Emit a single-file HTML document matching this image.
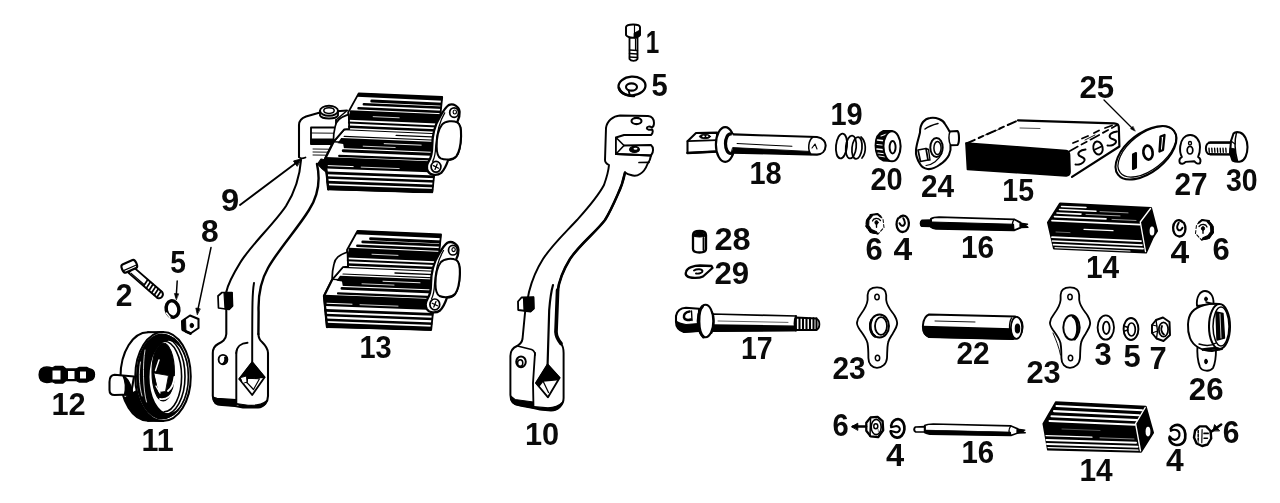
<!DOCTYPE html>
<html lang="en"><head><meta charset="utf-8"><title>Kickstarter parts diagram</title>
<style>
html,body{margin:0;padding:0;background:#fff;}
body{width:1280px;height:503px;overflow:hidden;}
svg{display:block;filter:blur(0.35px);}
svg text{font-family:"Liberation Sans",sans-serif;font-weight:bold;font-size:31px;fill:#0a0a0a;text-anchor:middle;}
svg path,svg line,svg ellipse,svg polygon,svg rect{stroke-linecap:round;stroke-linejoin:round;}
</style></head><body>
<svg width="1280" height="503" viewBox="0 0 1280 503">
<rect x="0" y="0" width="1280" height="503" fill="#fff" stroke="none"/>
<clipPath id="pedclip"><path d="M357.5,229.5 L441.6,233.6 L431.6,331 L326.5,328.3 L322.5,296 L331.5,279.3 L342.5,266 L347,265.8 L346,250 Z"/></clipPath>
<path d="M301,160 C300,174 296,190 286,206 C274,224 250,246 240,263 C232,276 228,284 226.3,292 L226.3,334 C226,340 222,342 218,344 C214.5,346 212.8,349 212.8,353 L212.8,396 C213,402 216,405 222,405 L235,406 L243,407.5 L258,407.5 C264,407 268,402 268,396 L268,353 C268,348 265,345 262,342 C259.5,340 258.6,338 258.4,334 L258.6,312 C258,296 260,282 268,268 C278,250 298,228 309,210 C318,196 321,182 317,164 L336,157 L336,120 L347,110.5 L320,112.5 L306,116.5 C302,118 299,121 299,125 L299,157 Z" fill="#fff" stroke="none" stroke-width="0.0" />
<path d="M301,160 C300,174 296,190 286,206 C274,224 250,246 240,263 C232,276 228,284 226.3,292 L226.3,334 C226,340 222,342 218,344 C214.5,346 212.8,349 212.8,353 L212.8,396 C213,402 216,405 222,405 L235,406 L243,407.5 L258,407.5 C264,407 268,402 268,396 L268,353 C268,348 265,345 262,342 C259.5,340 258.6,338 258.4,334" fill="none" stroke="#000" stroke-width="2.07" />
<path d="M258.4,334 L258.6,312 C258,296 260,282 268,268 C278,250 298,228 309,210 C318,196 321,182 317,164" fill="none" stroke="#000" stroke-width="2.415" />
<path d="M299,157 L299,125 C299,121 302,118 306,116.5 L320,112.5 L347,110.5" fill="none" stroke="#000" stroke-width="2.07" />
<path d="M336,120 L336,137" fill="none" stroke="#000" stroke-width="1.8399999999999999" />
<path d="M336,120 L346,111.5" fill="none" stroke="#000" stroke-width="1.4949999999999999" />
<path d="M320,111 L320,115.5 C322,119.5 336,119.5 338,115.5 L338,111 Z" fill="#fff" stroke="#000" stroke-width="1.8399999999999999" />
<ellipse cx="329" cy="110.8" rx="9.0" ry="5.0" fill="#fff" stroke="#000" stroke-width="1.9549999999999998"/>
<ellipse cx="329" cy="110.6" rx="5.2" ry="2.8" fill="#fff" stroke="#000" stroke-width="1.4949999999999999"/>
<path d="M311,127.5 L335,127.5 L335,144 L311,144 Z" fill="#fff" stroke="#000" stroke-width="1.8399999999999999" />
<path d="M311,139 L335,139 L335,144 L311,144 Z" fill="#000" stroke="#000" stroke-width="1.15" />
<line x1="311.00" y1="133.00" x2="335.00" y2="133.20" stroke="#000" stroke-width="0.9199999999999999"/>
<line x1="313.00" y1="149.00" x2="329.00" y2="149.20" stroke="#000" stroke-width="0.9199999999999999"/>
<line x1="313.00" y1="152.00" x2="329.00" y2="152.20" stroke="#000" stroke-width="0.9199999999999999"/>
<line x1="313.00" y1="155.00" x2="329.00" y2="155.20" stroke="#000" stroke-width="0.9199999999999999"/>
<path d="M299,157 C300,158.5 303,158.5 305.5,157.5" fill="none" stroke="#000" stroke-width="1.7249999999999999" />
<path d="M317.5,164 L321,159 L326.5,160 L326,172 C323,170 320,167 317.5,164 Z" fill="#000" stroke="#000" stroke-width="1.15" />
<path d="M254,283 C252.4,292 252.2,300 252.2,362" fill="none" stroke="#000" stroke-width="1.9549999999999998" />
<path d="M218,296 L222,292.5 L232,292.5 L232.5,306 L229,309.5 L218.5,308 Z" fill="#fff" stroke="#000" stroke-width="1.7249999999999999" />
<path d="M224,293 L232,292.5 L232.5,306 L229,309.5 L225,309 Z" fill="#000" stroke="#000" stroke-width="1.15" />
<path d="M236.3,353 C236.5,347 241,343.2 247.5,342.8" fill="none" stroke="#000" stroke-width="1.9549999999999998" />
<line x1="236.30" y1="353.00" x2="236.30" y2="404.00" stroke="#000" stroke-width="1.9549999999999998"/>
<path d="M213,397 C213,402 216,405 222,405 L236,406 L236,399.6 L217,398.4 Z" fill="#000" stroke="#000" stroke-width="1.15" />
<path d="M236,403.5 L243,407.5 L258,407.5 C262,407 265.5,405 267,400.5 C262.5,404.5 256,405.8 248,405.3 Z" fill="#000" stroke="#000" stroke-width="1.15" />
<ellipse cx="223" cy="359.6" rx="4.4" ry="4.8" fill="#fff" stroke="#000" stroke-width="1.8399999999999999"/>
<path d="M226.5,357 C227.5,360.5 225.5,364 222,364.3 C224.5,362.5 225.3,359.8 224.6,357.2 Z" fill="#000" stroke="#000" stroke-width="1.035" />
<path d="M252.2,362.3 L264.6,377.3 L252.2,395 L239.3,379 Z" fill="#fff" stroke="#000" stroke-width="1.8399999999999999" />
<path d="M252.2,362.3 L264.6,377.3 L247.5,378.2 L247,382.6 L239.3,379 Z" fill="#000" stroke="#000" stroke-width="1.38" />
<path d="M240.6,377.6 L246.4,376 L247,382 L243,383.4 Z" fill="#fff" stroke="#000" stroke-width="0.9199999999999999" />
<path d="M247,382.6 L253.5,389.5" fill="none" stroke="#000" stroke-width="1.265" />
<path d="M247.5,378.2 L259.5,378.8 L253.5,389.5" fill="none" stroke="#000" stroke-width="1.15" />
<g transform="translate(1.2,-137.6)">
<path d="M357.5,231 L441,234.5 L431.2,329.6 L327,327 L324,296 L332,280 L343,267 L348,266.5 L347,250 Z" fill="#fff" stroke="#000" stroke-width="1.8399999999999999" />
<path d="M347.5,252 C339,255 335,258 334,264 C332.5,270 332,275 332.2,279.5 L343,267 L348,266.5 Z" fill="#fff" stroke="#000" stroke-width="1.7249999999999999" />
<g clip-path="url(#pedclip)">
<path d="M357.5,230.62 L446,234.70 L446,238.46 L355.6,234.34 Z" fill="#000" stroke="none" stroke-width="0.0" />
<line x1="370.60" y1="238.72" x2="446.00" y2="242.13" stroke="#000" stroke-width="3.0"/>
<line x1="362.67" y1="241.85" x2="446.00" y2="245.59" stroke="#000" stroke-width="2.6"/>
<line x1="357.36" y1="245.82" x2="446.00" y2="249.76" stroke="#000" stroke-width="2.6"/>
<path d="M349.0,247.85 L446,252.13 L446,261.64 L347.2,257.38 Z" fill="#000" stroke="none" stroke-width="0.0" />
<line x1="372.00" y1="254.25" x2="398.00" y2="255.39" stroke="#fff" stroke-width="0.8"/>
<line x1="347.60" y1="260.20" x2="446.00" y2="264.42" stroke="#000" stroke-width="2.0"/>
<line x1="347.90" y1="264.41" x2="446.00" y2="268.58" stroke="#000" stroke-width="2.5"/>
<line x1="343.00" y1="267.41" x2="446.00" y2="271.75" stroke="#000" stroke-width="1.1"/>
<line x1="395.00" y1="272.99" x2="446.00" y2="275.12" stroke="#000" stroke-width="1.4"/>
<line x1="343.00" y1="274.02" x2="446.00" y2="278.29" stroke="#000" stroke-width="1.2"/>
<path d="M340.0,275.70 L446,280.07 L446,289.97 L333.2,285.44 Z" fill="#000" stroke="none" stroke-width="0.0" />
<line x1="383.00" y1="281.26" x2="420.00" y2="282.77" stroke="#fff" stroke-width="0.9"/>
<line x1="362.00" y1="283.80" x2="394.00" y2="285.10" stroke="#fff" stroke-width="0.8"/>
<path d="M332,280 L342,281.5 L343,287.5 L350,288.5 L349,294 L338,295.4 L324.4,295.6 Z" fill="#fff" stroke="none" stroke-width="0.0" />
<line x1="332.00" y1="279.38" x2="342.00" y2="279.79" stroke="#000" stroke-width="1.4"/>
<line x1="342.00" y1="288.40" x2="446.00" y2="292.55" stroke="#000" stroke-width="2.9"/>
<line x1="338.00" y1="293.45" x2="446.00" y2="297.70" stroke="#000" stroke-width="2.2"/>
<path d="M324.3,294.72 L446,299.49 L446,310.58 L325.0,305.98 Z" fill="#000" stroke="none" stroke-width="0.0" />
<line x1="327.00" y1="303.25" x2="352.00" y2="304.21" stroke="#fff" stroke-width="1.0"/>
<line x1="360.00" y1="304.71" x2="398.00" y2="306.17" stroke="#fff" stroke-width="0.8"/>
<line x1="325.60" y1="310.42" x2="446.00" y2="314.94" stroke="#000" stroke-width="2.7"/>
<line x1="325.60" y1="315.04" x2="446.00" y2="319.50" stroke="#000" stroke-width="2.6"/>
<line x1="325.60" y1="319.75" x2="446.00" y2="324.15" stroke="#000" stroke-width="2.6"/>
<path d="M326.6,322.80 L446,327.12 L446,331.78 L327.0,327.53 Z" fill="#000" stroke="none" stroke-width="0.0" />
</g>
<path d="M332,280 L324,296 L327,327" fill="none" stroke="#000" stroke-width="2.3" />
<path d="M447.4,242.7 C452,240.5 458,244 458.4,249.5 C458.6,253 457.8,256 456.5,258.5 L456,260 C459.5,262 460,268 459.8,274 C459.5,282 458,290 455,294 C453,296.5 450,297.6 447,297.6 C445.5,302 443.5,307 440,310.5 C436,313.5 429,313 426.8,309 C425,305.5 425.5,302 427.5,299 C430,295 431,290 431,284 C431,272 434,262 439,254 C441.5,249.5 444,245 447.4,242.7 Z" fill="#fff" stroke="#000" stroke-width="2.3" />
<path d="M443.5,250.5 C439,258 435.5,270 434.5,284 C434.3,290 433.5,295 431.5,299" fill="none" stroke="#000" stroke-width="1.265" />
<path d="M441,262 C444,258.5 452,258 456,260 C459.5,262 460,268 459.8,274 C459.5,282 458,290 455,294 C452,297.5 444,298 439.5,296 C436,294 435.5,290 435.5,284 C435.5,276 437,267 441,262 Z" fill="#fff" stroke="#000" stroke-width="1.9549999999999998" />
<ellipse cx="452.9" cy="250.2" rx="4.4" ry="4.8" fill="#fff" stroke="#000" stroke-width="1.7249999999999999"/>
<ellipse cx="453.6" cy="249.6" rx="1.7" ry="2.0" fill="#fff" stroke="#000" stroke-width="1.15"/>
<ellipse cx="434.8" cy="304.4" rx="4.9" ry="5.4" fill="#fff" stroke="#000" stroke-width="1.7249999999999999"/>
<line x1="432.20" y1="303.20" x2="437.40" y2="305.80" stroke="#000" stroke-width="1.265"/>
<line x1="436.00" y1="301.60" x2="433.80" y2="307.00" stroke="#000" stroke-width="1.265"/>
</g>
<g transform="translate(0,0)">
<path d="M357.5,231 L441,234.5 L431.2,329.6 L327,327 L324,296 L332,280 L343,267 L348,266.5 L347,250 Z" fill="#fff" stroke="#000" stroke-width="1.8399999999999999" />
<path d="M347.5,252 C339,255 335,258 334,264 C332.5,270 332,275 332.2,279.5 L343,267 L348,266.5 Z" fill="#fff" stroke="#000" stroke-width="1.7249999999999999" />
<g clip-path="url(#pedclip)">
<path d="M357.5,230.62 L446,234.70 L446,238.46 L355.6,234.34 Z" fill="#000" stroke="none" stroke-width="0.0" />
<line x1="370.60" y1="238.72" x2="446.00" y2="242.13" stroke="#000" stroke-width="3.0"/>
<line x1="362.67" y1="241.85" x2="446.00" y2="245.59" stroke="#000" stroke-width="2.6"/>
<line x1="357.36" y1="245.82" x2="446.00" y2="249.76" stroke="#000" stroke-width="2.6"/>
<path d="M349.0,247.85 L446,252.13 L446,261.64 L347.2,257.38 Z" fill="#000" stroke="none" stroke-width="0.0" />
<line x1="372.00" y1="254.25" x2="398.00" y2="255.39" stroke="#fff" stroke-width="0.8"/>
<line x1="347.60" y1="260.20" x2="446.00" y2="264.42" stroke="#000" stroke-width="2.0"/>
<line x1="347.90" y1="264.41" x2="446.00" y2="268.58" stroke="#000" stroke-width="2.5"/>
<line x1="343.00" y1="267.41" x2="446.00" y2="271.75" stroke="#000" stroke-width="1.1"/>
<line x1="395.00" y1="272.99" x2="446.00" y2="275.12" stroke="#000" stroke-width="1.4"/>
<line x1="343.00" y1="274.02" x2="446.00" y2="278.29" stroke="#000" stroke-width="1.2"/>
<path d="M340.0,275.70 L446,280.07 L446,289.97 L333.2,285.44 Z" fill="#000" stroke="none" stroke-width="0.0" />
<line x1="383.00" y1="281.26" x2="420.00" y2="282.77" stroke="#fff" stroke-width="0.9"/>
<line x1="362.00" y1="283.80" x2="394.00" y2="285.10" stroke="#fff" stroke-width="0.8"/>
<path d="M332,280 L342,281.5 L343,287.5 L350,288.5 L349,294 L338,295.4 L324.4,295.6 Z" fill="#fff" stroke="none" stroke-width="0.0" />
<line x1="332.00" y1="279.38" x2="342.00" y2="279.79" stroke="#000" stroke-width="1.4"/>
<line x1="342.00" y1="288.40" x2="446.00" y2="292.55" stroke="#000" stroke-width="2.9"/>
<line x1="338.00" y1="293.45" x2="446.00" y2="297.70" stroke="#000" stroke-width="2.2"/>
<path d="M324.3,294.72 L446,299.49 L446,310.58 L325.0,305.98 Z" fill="#000" stroke="none" stroke-width="0.0" />
<line x1="327.00" y1="303.25" x2="352.00" y2="304.21" stroke="#fff" stroke-width="1.0"/>
<line x1="360.00" y1="304.71" x2="398.00" y2="306.17" stroke="#fff" stroke-width="0.8"/>
<line x1="325.60" y1="310.42" x2="446.00" y2="314.94" stroke="#000" stroke-width="2.7"/>
<line x1="325.60" y1="315.04" x2="446.00" y2="319.50" stroke="#000" stroke-width="2.6"/>
<line x1="325.60" y1="319.75" x2="446.00" y2="324.15" stroke="#000" stroke-width="2.6"/>
<path d="M326.6,322.80 L446,327.12 L446,331.78 L327.0,327.53 Z" fill="#000" stroke="none" stroke-width="0.0" />
</g>
<path d="M332,280 L324,296 L327,327" fill="none" stroke="#000" stroke-width="2.3" />
<path d="M447.4,242.7 C452,240.5 458,244 458.4,249.5 C458.6,253 457.8,256 456.5,258.5 L456,260 C459.5,262 460,268 459.8,274 C459.5,282 458,290 455,294 C453,296.5 450,297.6 447,297.6 C445.5,302 443.5,307 440,310.5 C436,313.5 429,313 426.8,309 C425,305.5 425.5,302 427.5,299 C430,295 431,290 431,284 C431,272 434,262 439,254 C441.5,249.5 444,245 447.4,242.7 Z" fill="#fff" stroke="#000" stroke-width="2.3" />
<path d="M443.5,250.5 C439,258 435.5,270 434.5,284 C434.3,290 433.5,295 431.5,299" fill="none" stroke="#000" stroke-width="1.265" />
<path d="M441,262 C444,258.5 452,258 456,260 C459.5,262 460,268 459.8,274 C459.5,282 458,290 455,294 C452,297.5 444,298 439.5,296 C436,294 435.5,290 435.5,284 C435.5,276 437,267 441,262 Z" fill="#fff" stroke="#000" stroke-width="1.9549999999999998" />
<ellipse cx="452.9" cy="250.2" rx="4.4" ry="4.8" fill="#fff" stroke="#000" stroke-width="1.7249999999999999"/>
<ellipse cx="453.6" cy="249.6" rx="1.7" ry="2.0" fill="#fff" stroke="#000" stroke-width="1.15"/>
<ellipse cx="434.8" cy="304.4" rx="4.9" ry="5.4" fill="#fff" stroke="#000" stroke-width="1.7249999999999999"/>
<line x1="432.20" y1="303.20" x2="437.40" y2="305.80" stroke="#000" stroke-width="1.265"/>
<line x1="436.00" y1="301.60" x2="433.80" y2="307.00" stroke="#000" stroke-width="1.265"/>
</g>
<line x1="240.00" y1="205.00" x2="298.00" y2="161.50" stroke="#000" stroke-width="1.8399999999999999"/>
<path d="M301,159 L293.5,161 L297,166 Z" fill="#000" stroke="#000" stroke-width="0.9199999999999999" />
<g transform="translate(131,270) rotate(41)">
<path d="M0,-3.8 L38,-3.8 C42,-2.5 42,2.5 38,3.8 L0,3.8 Z" fill="#fff" stroke="#000" stroke-width="1.9549999999999998" />
<line x1="19.00" y1="-3.60" x2="20.00" y2="3.60" stroke="#000" stroke-width="1.7249999999999999"/>
<line x1="22.50" y1="-3.60" x2="23.50" y2="3.60" stroke="#000" stroke-width="1.7249999999999999"/>
<line x1="26.00" y1="-3.60" x2="27.00" y2="3.60" stroke="#000" stroke-width="1.7249999999999999"/>
<line x1="29.50" y1="-3.60" x2="30.50" y2="3.60" stroke="#000" stroke-width="1.7249999999999999"/>
<line x1="33.00" y1="-3.60" x2="34.00" y2="3.60" stroke="#000" stroke-width="1.7249999999999999"/>
<line x1="36.50" y1="-3.60" x2="37.50" y2="3.60" stroke="#000" stroke-width="1.7249999999999999"/>
<line x1="2.00" y1="2.40" x2="19.00" y2="2.40" stroke="#000" stroke-width="1.15"/>
</g>
<g transform="translate(129.3,266.3) rotate(-24)">
<path d="M-5.5,-4.4 L5.5,-4.4 C8.5,-4.4 8.5,4.4 5.5,4.4 L-5.5,4.4 C-8.5,4.4 -8.5,-4.4 -5.5,-4.4 Z" fill="#fff" stroke="#000" stroke-width="2.1849999999999996" />
<path d="M-7,1.6 L7,1.6" fill="none" stroke="#000" stroke-width="1.15" />
</g>
<ellipse cx="172.5" cy="309" rx="6.3" ry="8.3" fill="#fff" stroke="#000" stroke-width="3.4499999999999997" transform="rotate(-12 172.5 309)"/>
<path d="M166.5,313 L170,317.5" fill="none" stroke="#fff" stroke-width="1.38" />
<line x1="177.20" y1="281.00" x2="176.20" y2="297.00" stroke="#000" stroke-width="1.4949999999999999"/>
<path d="M176.2,299.5 L174.4,293.5 L178.4,293.8 Z" fill="#000" stroke="#000" stroke-width="0.69" />
<path d="M182,321 L190,315.5 L198.5,319 L198.5,328 L190.5,333.5 L182.5,330 Z" fill="#fff" stroke="#000" stroke-width="2.07" />
<path d="M182,321 L185.5,318.6 L186,331.5 L182.5,330 Z" fill="#000" stroke="#000" stroke-width="0.9199999999999999" />
<path d="M186,331.5 L190.5,333.5" fill="none" stroke="#000" stroke-width="2.76" />
<ellipse cx="191.8" cy="325.5" rx="1.8" ry="2.2" fill="#000" stroke="#000" stroke-width="0.9199999999999999"/>
<line x1="211.00" y1="247.50" x2="197.80" y2="310.00" stroke="#000" stroke-width="1.4949999999999999"/>
<path d="M197.2,314.5 L195.8,308 L200,308.8 Z" fill="#000" stroke="#000" stroke-width="0.69" />
<path d="M41,369 C44,366.5 49,367 52,368 L55,366.5 L63,366.5 L66,369 L76,369 L79,367.5 L87,367.5 L90,369 C93,369.5 94.5,371.5 94.5,374.5 C94.5,378 93,380 90,380.5 L87,382 L79,382 L76,380.5 L66,380.5 L63,383 L55,383 L52,381.5 C49,382.5 44,383 41,380.5 C38.5,378 38.5,371.5 41,369 Z" fill="#000" stroke="#000" stroke-width="1.38" />
<path d="M52.5,370.5 L60.5,370.5 L60.5,379.5 L52.5,379.5 Z" fill="#fff" stroke="none" stroke-width="0.0" />
<path d="M68,371 L74.5,371 L74.5,379 L68,379 Z" fill="#fff" stroke="none" stroke-width="0.0" />
<path d="M80,371.5 L86,371.5 L86,378.5 L80,378.5 Z" fill="#fff" stroke="none" stroke-width="0.0" />
<ellipse cx="148" cy="376.5" rx="27.5" ry="44.3" fill="#fff" stroke="#000" stroke-width="2.07"/>
<path d="M148,332.2 L163,332 L163,421 L148,420.8 Z" fill="#fff" stroke="none" stroke-width="0.0" />
<line x1="148.00" y1="332.20" x2="163.00" y2="332.00" stroke="#000" stroke-width="2.07"/>
<line x1="148.00" y1="420.80" x2="163.00" y2="421.00" stroke="#000" stroke-width="2.07"/>
<path d="M124.5,398 C129,411 138,419.5 149,420.8 L163,421 C150,418 141,405 137.5,390 Z" fill="#000" stroke="#000" stroke-width="1.15" />
<ellipse cx="163" cy="376.5" rx="27.75" ry="44.5" fill="#fff" stroke="#000" stroke-width="2.07"/>
<path fill-rule="evenodd" fill="#000" stroke="none" d="M136,376.5 a26,43 0 1,0 52,0 a26,43 0 1,0 -52,0 Z M149.5,377 a19.2,36.2 0 1,0 38.4,0 a19.2,36.2 0 1,0 -38.4,0 Z"/>
<path d="M140.5,362 C138.5,372 139,386 142,396" fill="none" stroke="#fff" stroke-width="0.8049999999999999" />
<path d="M145,350 C142.5,364 143,390 146.5,402" fill="none" stroke="#fff" stroke-width="0.8049999999999999" />
<path d="M164.2,335.3 A24.2,41.2 0 0,1 164.2,417.7" fill="none" stroke="#000" stroke-width="1.6099999999999999" />
<path d="M164.2,338.3 A20.8,38.2 0 0,1 164.2,414.7" fill="none" stroke="#000" stroke-width="1.6099999999999999" />
<path d="M164.2,341.3 A17.4,35.2 0 0,1 164.2,411.7" fill="none" stroke="#000" stroke-width="1.6099999999999999" />
<ellipse cx="163.2" cy="372" rx="11.2" ry="29" fill="#000" stroke="#000" stroke-width="1.15"/>
<path d="M154,373 L168.5,375.5 L165.5,391.5 L158.5,392.5 Z" fill="#fff" stroke="#000" stroke-width="0.9199999999999999" />
<path d="M159,360 L155.5,370.5" fill="none" stroke="#fff" stroke-width="1.4949999999999999" />
<path d="M156,386 L160,393" fill="none" stroke="#fff" stroke-width="1.38" />
<path d="M168,391 C172,388 174,382 174.5,377" fill="none" stroke="#fff" stroke-width="2.07" />
<path d="M160,399 C166,400 171,396 173.5,390" fill="none" stroke="#fff" stroke-width="1.8399999999999999" />
<path d="M134,376.5 L114.5,374.8 C110.5,375 109.5,378 109.5,382 L109.5,390 C109.5,393.5 111,395 114.5,395 L131,394.5 Z" fill="#fff" stroke="#000" stroke-width="2.07" />
<path d="M123,375.6 C128,378 131.5,386 133.5,396 L124.5,394.8 C126,388 125.5,381 123,375.6 Z" fill="#000" stroke="#000" stroke-width="1.38" />
<path d="M629.5,37.5 L629.5,59 C631,61.5 636,61.5 637.5,59 L637.5,37.5 Z" fill="#fff" stroke="#000" stroke-width="1.8399999999999999" />
<path d="M626,27 C627,24 639,23.5 640,27 L640,35 C638,38.5 628,38.5 626,35 Z" fill="#fff" stroke="#000" stroke-width="1.9549999999999998" />
<path d="M634.5,24.5 L634.5,37.5" fill="none" stroke="#000" stroke-width="1.15" />
<path d="M634.5,33 L640,30 L640,35 C639,37 636,38 634.5,38 Z" fill="#000" stroke="#000" stroke-width="0.9199999999999999" />
<line x1="629.50" y1="50.00" x2="637.50" y2="50.50" stroke="#000" stroke-width="1.38"/>
<line x1="629.50" y1="53.50" x2="637.50" y2="54.00" stroke="#000" stroke-width="1.38"/>
<line x1="629.50" y1="57.00" x2="637.50" y2="57.50" stroke="#000" stroke-width="1.38"/>
<line x1="635.50" y1="39.00" x2="635.50" y2="50.00" stroke="#000" stroke-width="1.15"/>
<ellipse cx="632" cy="86" rx="13.5" ry="9.3" fill="#fff" stroke="#000" stroke-width="2.3" transform="rotate(-4 632 86)"/>
<ellipse cx="631.5" cy="87" rx="5.5" ry="3.6" fill="#fff" stroke="#000" stroke-width="2.07"/>
<path d="M628.5,90 L630,96" fill="none" stroke="#000" stroke-width="1.8399999999999999" />
<path d="M619,88 C621,94 628,96.5 634,96" fill="none" stroke="#000" stroke-width="2.53" />
<path d="M606,128 C607,121 613,116 620,115.5 L648,116 C652,116.5 654,119.5 654,123 C654,125.5 653,127 652,127.5 C649.5,126 647,126.5 646.8,128.2 C647,130 650,130 652.2,129.5 C653,131 652.5,133.5 651,135 L624,135 L616,137.5 L616,154 L651,155.5 C650.5,159 649,162 647.5,164 C646,168 643.5,172 640,174 C637,176 633.5,176 631,175 C628.5,174.5 626.5,173.5 625,172.5 C623.5,180 621,188 617.5,195 C614,203 610,212 605,220 C596,232 580,244 570,259 C562,272 558.5,284 557.5,292 L555.8,332 C556,338 559,341 561,343.5 C563,346 563.6,349 563.6,353 L563.6,398 C563.6,405 558,410.5 551,410.5 L540,409.5 L533.5,408 L520,405.5 C513,405 510.4,401 510.4,395 L510.4,356 C510.4,350 513.5,347.5 517,346 C520.5,344 522,342 522.5,339 L525,313 L529,292 C532,280 536,270 543,259 C552,245 566,232 577,220 C586,210 597,198 604,185 C606.5,178 608.5,171 609,165 C606,163.5 605,162 605,160 Z" fill="#fff" stroke="#000" stroke-width="1.9549999999999998" />
<path d="M625,172.5 C623.5,180 621,188 617.5,195 C614,203 610,212 605,220 C596,232 580,244 570,259 C562,272 558.5,284 557.5,292" fill="none" stroke="#000" stroke-width="2.53" />
<path d="M557.6,290 L556,332 C556.2,337 558.5,340.5 561,343.5" fill="none" stroke="#000" stroke-width="3.6799999999999997" />
<path d="M616,137.5 L624,145.5 L616,154 Z" fill="#fff" stroke="#000" stroke-width="1.6099999999999999" />
<path d="M624,145.5 L651,145 C653.5,147 654,152 651,155.5" fill="none" stroke="#000" stroke-width="1.9549999999999998" />
<path d="M616,154 L651,155.5" fill="none" stroke="#000" stroke-width="2.07" />
<path d="M639,162.5 L649,162.3" fill="none" stroke="#000" stroke-width="1.7249999999999999" />
<ellipse cx="636.5" cy="121" rx="5.0" ry="3.1" fill="#fff" stroke="#000" stroke-width="2.07"/>
<ellipse cx="634.5" cy="149.4" rx="4.8" ry="3.0" fill="#000" stroke="#000" stroke-width="1.38"/>
<ellipse cx="635.5" cy="148.8" rx="2.0" ry="1.0" fill="#fff" stroke="#000" stroke-width="0.0"/>
<path d="M553,285 C551,292 550,300 549.2,310 L547.6,364.5" fill="none" stroke="#000" stroke-width="2.1849999999999996" />
<path d="M518,301.5 L521.5,297.5 L533.5,297.2 L533.8,308.5 L530.5,311.5 L518.2,310 Z" fill="#fff" stroke="#000" stroke-width="1.8399999999999999" />
<path d="M523.5,298 L533.5,297.2 L533.8,308.5 L530.5,311.5 L524,310.8 Z" fill="#000" stroke="#000" stroke-width="1.15" />
<path d="M517.5,346 L531.5,349.5 C534,350.5 535,352 535,355" fill="none" stroke="#000" stroke-width="1.7249999999999999" />
<path d="M535,353 L533,383 L533.5,408" fill="none" stroke="#000" stroke-width="1.8399999999999999" />
<path d="M510.6,396 C510.6,401 513,405 520,405.5 L533.5,408 L533.3,402 L515,399.5 Z" fill="#000" stroke="#000" stroke-width="1.15" />
<path d="M533.5,406.5 L540,409.5 L551,410.5 C556.5,410.5 561,407 562.8,402 C558,407 550,408.6 542.5,407.4 Z" fill="#000" stroke="#000" stroke-width="1.15" />
<ellipse cx="521" cy="361.8" rx="4.8" ry="5.4" fill="#fff" stroke="#000" stroke-width="1.9549999999999998"/>
<ellipse cx="520.2" cy="363" rx="2.6" ry="3.3" fill="#fff" stroke="#000" stroke-width="1.4949999999999999"/>
<path d="M547.6,364.5 L559.6,377.8 L548,397.3 L536,383 Z" fill="#fff" stroke="#000" stroke-width="1.8399999999999999" />
<path d="M547.6,364.5 L559.6,377.8 L556.5,379.8 L543,381 L538.8,386.4 L536,383 Z" fill="#000" stroke="#000" stroke-width="1.38" />
<path d="M543,381 L548.5,392.5" fill="none" stroke="#000" stroke-width="1.265" />
<path d="M687.5,141.2 L696,133 L717,132.6 L717,151.5 L687.5,153 Z" fill="#fff" stroke="#000" stroke-width="2.07" />
<path d="M687.5,141.2 L717,140.2" fill="none" stroke="#000" stroke-width="1.7249999999999999" />
<ellipse cx="705" cy="136.5" rx="5.6" ry="2.2" fill="#000" stroke="#000" stroke-width="0.9199999999999999"/>
<ellipse cx="703.5" cy="136.4" rx="1.3" ry="0.8" fill="#fff" stroke="#000" stroke-width="0.0"/>
<ellipse cx="707.2" cy="136.3" rx="1.2" ry="0.7" fill="#fff" stroke="#000" stroke-width="0.0"/>
<path d="M687.5,153 L717,151.6" fill="none" stroke="#000" stroke-width="2.53" />
<ellipse cx="725.2" cy="144.5" rx="9.3" ry="17.4" fill="#fff" stroke="#000" stroke-width="2.1849999999999996"/>
<ellipse cx="730.5" cy="143.6" rx="5.0" ry="9.8" fill="#fff" stroke="#000" stroke-width="3.2199999999999998"/>
<path d="M732,134.3 L817,137 C823,138 826,142 825.6,146 C825.4,151 822,154.4 817,154.6 L731,152.6 C728.5,148 729,139 732,134.3 Z" fill="#fff" stroke="none" stroke-width="0.0" />
<path d="M733.5,134.4 L817,137 C823,138 826,142 825.6,146 C825.4,151 822,154.4 817,154.6 L732,152.6" fill="none" stroke="#000" stroke-width="2.07" />
<path d="M733,147.6 L809,151.4 L810.5,154.2 L731.5,152.6 Z" fill="#000" stroke="#000" stroke-width="0.9199999999999999" />
<line x1="737.00" y1="143.60" x2="792.00" y2="146.20" stroke="#000" stroke-width="1.035"/>
<path d="M813,137 C808.3,140 807.3,150 811,154.4" fill="none" stroke="#000" stroke-width="1.4949999999999999" />
<path d="M812,148 L815,144 L817,149" fill="none" stroke="#000" stroke-width="1.15" />
<path d="M693,235 C693,232 696,231 699.5,231 C703,231 706,232 706,235 L706,249 C706,251.5 703,252.5 699.5,252.5 C696,252.5 693,251.5 693,249 Z" fill="#fff" stroke="#000" stroke-width="2.3" />
<path d="M693,235 C694,237.5 705,237.5 706,235 C705,231.5 694,231.5 693,235 Z" fill="#000" stroke="#000" stroke-width="1.15" />
<line x1="703.50" y1="238.00" x2="703.50" y2="250.00" stroke="#000" stroke-width="1.8399999999999999"/>
<path d="M686,272 C687,267.5 694,265.5 700,265.5 L711.5,266 L712.5,268 L703,276.5 C699,278.5 690,278.5 687,276 C685.5,275 685.5,273.5 686,272 Z" fill="#fff" stroke="#000" stroke-width="2.3" />
<path d="M694,270.5 C697,268.5 702,269 702.5,271 C702.5,273 699,274 696,273.5" fill="none" stroke="#000" stroke-width="1.9549999999999998" />
<path d="M712,314 L796,316 L796,330.5 L712,331 Z" fill="#fff" stroke="#000" stroke-width="1.7249999999999999" />
<path d="M713,325 L796,326.2 L796,330.5 L713,331.2 Z" fill="#000" stroke="#000" stroke-width="1.38" />
<path d="M718,321 L788,322.4" fill="none" stroke="#555" stroke-width="0.9199999999999999" />
<path d="M796,317.5 L816,318.5 C820.5,320 820.5,328.5 816,330 L796,330 Z" fill="#fff" stroke="#000" stroke-width="1.8399999999999999" />
<line x1="799.50" y1="318.40" x2="799.50" y2="330.00" stroke="#000" stroke-width="2.07"/>
<line x1="803.00" y1="318.40" x2="803.00" y2="330.00" stroke="#000" stroke-width="2.07"/>
<line x1="806.50" y1="318.40" x2="806.50" y2="330.00" stroke="#000" stroke-width="2.07"/>
<line x1="810.00" y1="318.40" x2="810.00" y2="330.00" stroke="#000" stroke-width="2.07"/>
<line x1="813.50" y1="318.40" x2="813.50" y2="330.00" stroke="#000" stroke-width="2.07"/>
<line x1="816.50" y1="318.40" x2="816.50" y2="330.00" stroke="#000" stroke-width="2.07"/>
<path d="M796,316 C794,320 794,327 796,330.5" fill="none" stroke="#000" stroke-width="1.8399999999999999" />
<path d="M676,316 C677,311 681,308 686,307.8 L699,308.8 L699,331 L684,332 C679,330.5 676,327 676,322 Z" fill="#fff" stroke="#000" stroke-width="2.07" />
<path d="M676,321 C677,327 680,331 684,332.3 L699,331.3 L699,323.5 L686,324.5 C682,324 678,323 676,321 Z" fill="#000" stroke="#000" stroke-width="1.15" />
<path d="M689.5,311.5 C685,312 683.5,315 684,317.5 C684.5,320 688,320.5 691,319.5" fill="none" stroke="#000" stroke-width="2.53" />
<line x1="691.50" y1="311.00" x2="692.00" y2="320.50" stroke="#000" stroke-width="1.38"/>
<ellipse cx="705.5" cy="321" rx="7.8" ry="16.2" fill="#fff" stroke="#000" stroke-width="2.07"/>
<path d="M702.5,306.5 C697.5,311 697.5,332 703.5,337" fill="none" stroke="#000" stroke-width="2.9899999999999998" />
<path d="M712,312 C714.5,316 714.5,328 711.5,333" fill="none" stroke="#000" stroke-width="1.8399999999999999" />
<ellipse cx="841.5" cy="146" rx="5.5" ry="12.5" fill="none" stroke="#000" stroke-width="1.8399999999999999" transform="rotate(6 841.5 146)"/>
<ellipse cx="851" cy="147" rx="5.2" ry="11.5" fill="none" stroke="#000" stroke-width="1.7249999999999999" transform="rotate(6 851 147)"/>
<ellipse cx="857" cy="148" rx="5.0" ry="11" fill="none" stroke="#000" stroke-width="1.7249999999999999" transform="rotate(6 857 148)"/>
<path d="M861,137 C866,141 867,152 862,158" fill="none" stroke="#000" stroke-width="1.7249999999999999" />
<path d="M883,131 L892,131 L892,161 L883,160.5 C877.5,158.5 875.5,152 875.5,145.5 C875.5,138 878,133 883,131 Z" fill="#000" stroke="#000" stroke-width="1.8399999999999999" />
<line x1="877.50" y1="140.00" x2="886.00" y2="141.00" stroke="#fff" stroke-width="1.4949999999999999"/>
<line x1="877.00" y1="149.00" x2="886.00" y2="150.00" stroke="#fff" stroke-width="1.4949999999999999"/>
<line x1="877.00" y1="144.50" x2="886.00" y2="145.50" stroke="#fff" stroke-width="1.15"/>
<line x1="878.00" y1="153.00" x2="886.00" y2="154.00" stroke="#fff" stroke-width="1.15"/>
<line x1="879.00" y1="156.00" x2="885.50" y2="157.00" stroke="#fff" stroke-width="0.9199999999999999"/>
<path d="M881,136 L888,133.5" fill="none" stroke="#fff" stroke-width="1.15" />
<ellipse cx="892" cy="146.3" rx="8.6" ry="15" fill="#fff" stroke="#000" stroke-width="2.07"/>
<ellipse cx="892.6" cy="147.3" rx="3.0" ry="6.2" fill="#fff" stroke="#000" stroke-width="1.9549999999999998"/>
<path d="M930,118 C936,117 943,119.5 945,124 C947,127 948.5,129.5 949.5,131.5 L957.5,131 C959.5,133 959.5,143 957.5,145 L950.5,145.2 C951,149 950.5,152 949,155 C947,159 944,162 940,164.5 C936,167.5 931,169.5 927.5,169 C924,168.5 921.5,166.5 920,164 C917.5,160 915.5,155 916,150 C916.5,144 918.5,139 920,132.5 C920,128 921,124.5 923,122 C925,119.5 927.5,118.3 930,118 Z" fill="#fff" stroke="#000" stroke-width="2.07" />
<path d="M925,129 C929,126 934,124.5 938,123.5" fill="none" stroke="#000" stroke-width="1.4949999999999999" />
<path d="M950,131.5 C948.5,135 948.5,141 950.5,145" fill="none" stroke="#000" stroke-width="1.4949999999999999" />
<ellipse cx="936.5" cy="147.5" rx="6.2" ry="9.5" fill="#fff" stroke="#000" stroke-width="1.9549999999999998"/>
<ellipse cx="937.5" cy="148" rx="3.6" ry="6.5" fill="#fff" stroke="#000" stroke-width="1.4949999999999999"/>
<path d="M918,150 L926,148.5 L928,160 L920.5,161.5 Z" fill="#fff" stroke="#000" stroke-width="1.7249999999999999" />
<path d="M926,148.5 L928.5,149.5 L930,160 L928,160" fill="none" stroke="#000" stroke-width="1.38" />
<path d="M926,165.5 C932,165 939,160 942,153" fill="none" stroke="#000" stroke-width="1.15" />
<path d="M1018,120.4 L1114,123.4 C1117.5,123.6 1118.6,124.6 1118.8,127 L1119.4,146.5 L1072,176.8 L967.5,169.5 L966.5,143.5 Z" fill="#fff" stroke="none" stroke-width="0.0" />
<path d="M1018,120.4 L1114,123.4 C1117.5,123.6 1118.6,124.6 1118.8,127 L1119.4,146.5 L1072,176.8" fill="none" stroke="#000" stroke-width="2.1849999999999996" />
<path d="M966,143 L1066,150.6 C1068.5,151 1069.5,152.5 1069.5,155 L1070,172 C1070,174.5 1068.5,176 1066,175.8 L967.5,169.5 Z" fill="#000" stroke="#000" stroke-width="1.7249999999999999" />
<path d="M1069,151.4 L1118,124.6" fill="none" stroke="#000" stroke-width="1.7249999999999999" stroke-dasharray="10 4.2 6 4.2"/>
<path d="M966.5,143.5 L1018,120.4" fill="none" stroke="#000" stroke-width="1.9549999999999998" stroke-dasharray="9 4.4 5 4.2"/>
<line x1="985.00" y1="135.00" x2="1000.00" y2="129.00" stroke="#000" stroke-width="0.8049999999999999"/>
<line x1="1020.00" y1="128.00" x2="1040.00" y2="128.50" stroke="#000" stroke-width="0.69"/>
<line x1="1085.00" y1="140.00" x2="1095.00" y2="135.00" stroke="#000" stroke-width="0.9199999999999999"/>
<path d="M1085.5,149.5 C1080,150 1077,153 1079,155.5 C1081,157.5 1085.5,157 1084.5,160.5 C1083.5,163.5 1079,165 1075.5,164.5" fill="none" stroke="#000" stroke-width="1.9549999999999998" />
<ellipse cx="1098" cy="148" rx="4.6" ry="6.6" fill="#fff" stroke="#000" stroke-width="1.9549999999999998" transform="rotate(-12 1098 148)"/>
<path d="M1095,149.5 L1101.5,146.5" fill="none" stroke="#000" stroke-width="1.7249999999999999" />
<path d="M1117,131.5 C1112,132 1108.5,134.5 1110,137.5 C1111.5,139.8 1116.5,139 1116,142 C1115.5,144.8 1111,146 1107.5,145.5" fill="none" stroke="#000" stroke-width="1.9549999999999998" />
<line x1="1073.00" y1="143.00" x2="1078.00" y2="141.00" stroke="#000" stroke-width="1.8399999999999999"/>
<line x1="1082.00" y1="138.50" x2="1088.00" y2="136.00" stroke="#000" stroke-width="1.8399999999999999"/>
<line x1="1094.00" y1="133.00" x2="1099.00" y2="130.50" stroke="#000" stroke-width="1.8399999999999999"/>
<line x1="1105.00" y1="128.00" x2="1112.00" y2="125.50" stroke="#000" stroke-width="1.8399999999999999"/>
<ellipse cx="1146" cy="152.8" rx="35.5" ry="19.5" fill="#fff" stroke="#000" stroke-width="2.07" transform="rotate(-38 1146 152.8)"/>
<ellipse cx="1147" cy="151.8" rx="34" ry="18" fill="none" stroke="#000" stroke-width="1.265" transform="rotate(-38 1147 151.8)"/>
<path d="M1133,154.5 L1136,153 L1136,167.5 L1133,169 Z" fill="#000" stroke="#000" stroke-width="2.07" />
<ellipse cx="1148" cy="152.6" rx="4.6" ry="7.0" fill="#fff" stroke="#000" stroke-width="2.6449999999999996" transform="rotate(-8 1148 152.6)"/>
<path d="M1160.5,136.5 L1164.5,135 L1163,150 L1159.5,151.5 Z" fill="#fff" stroke="#000" stroke-width="2.3" />
<line x1="1161.00" y1="138.50" x2="1160.30" y2="149.50" stroke="#000" stroke-width="1.38"/>
<line x1="1104.00" y1="100.00" x2="1133.50" y2="129.50" stroke="#000" stroke-width="1.265"/>
<path d="M1135,131 L1130.5,128.8 L1132.8,126.5 Z" fill="#000" stroke="#000" stroke-width="0.575" />
<path d="M1190,135 C1195.6,134.75 1200,140 1200,146.9 C1200,151.25 1199.4,154.4 1198.1,156.9 C1200,158.1 1201,160.6 1200,163.1 C1198.1,164.4 1195.6,163.1 1194.4,161.25 L1185.6,161.9 C1183.75,164 1181.25,164.4 1179.75,162.75 C1179,160.6 1180,158.1 1181.9,156.9 C1180,153.75 1179.75,150 1180.25,146.25 C1181,140 1184.4,135.25 1190,135 Z" fill="#fff" stroke="#000" stroke-width="1.9549999999999998" />
<ellipse cx="1190" cy="150.2" rx="2.8" ry="3.8" fill="none" stroke="#000" stroke-width="1.7249999999999999"/>
<ellipse cx="1190" cy="143.2" rx="1.5" ry="1.7" fill="none" stroke="#000" stroke-width="1.38"/>
<path d="M1231,142.6 L1210,142.6 C1204.5,143.5 1204.5,153.5 1210,154.4 L1231,154.6 Z" fill="#fff" stroke="#000" stroke-width="1.9549999999999998" />
<line x1="1209.00" y1="142.70" x2="1230.00" y2="142.70" stroke="#000" stroke-width="2.3"/>
<line x1="1209.00" y1="148.20" x2="1209.30" y2="152.20" stroke="#000" stroke-width="1.38"/>
<line x1="1211.80" y1="148.20" x2="1212.10" y2="152.20" stroke="#000" stroke-width="1.38"/>
<line x1="1214.60" y1="148.20" x2="1214.90" y2="152.20" stroke="#000" stroke-width="1.38"/>
<line x1="1217.40" y1="148.20" x2="1217.70" y2="152.20" stroke="#000" stroke-width="1.38"/>
<line x1="1220.20" y1="148.20" x2="1220.50" y2="152.20" stroke="#000" stroke-width="1.38"/>
<line x1="1223.00" y1="148.20" x2="1223.30" y2="152.20" stroke="#000" stroke-width="1.38"/>
<line x1="1225.80" y1="148.20" x2="1226.10" y2="152.20" stroke="#000" stroke-width="1.38"/>
<line x1="1209.00" y1="154.00" x2="1230.00" y2="154.40" stroke="#000" stroke-width="1.8399999999999999"/>
<path d="M1231,141 L1233.5,133.5 C1235,132 1238,132 1240,132.5 C1244.5,134 1247.5,140 1247.5,147 C1247.5,154 1245,160.5 1240.5,161.5 C1238,162 1234.5,161.5 1232.5,160.5 L1230,153 Z" fill="#fff" stroke="#000" stroke-width="2.07" />
<path d="M1236.5,132.6 C1234.5,140 1234.5,150 1237.5,161.3" fill="none" stroke="#000" stroke-width="1.4949999999999999" />
<path d="M1230.4,148 L1235,149 C1235,154 1236,158 1237.5,161.3 C1235.5,161.6 1233.5,161.2 1232.5,160.5 L1230,153 Z" fill="#000" stroke="#000" stroke-width="0.9199999999999999" />
<path d="M1231,141 L1235,144" fill="none" stroke="#000" stroke-width="1.15" />
<g transform="translate(875,224) scale(1,1)">
<path d="M-4.5,-9 L2.5,-10 L8,-5 L9,3.5 L3,10 L-4.5,8.5 L-9,2.5 L-8.5,-4 Z" fill="#fff" stroke="#000" stroke-width="1.035" stroke-dasharray="3 2"/>
<path d="M-4.5,-9 L-8.5,-4 L-9,2.5 L-4.5,8.5 L3,10 L1.5,7.8 L-3.5,5.5 L-6.3,1.5 L-6,-4 L-2.5,-8.4 Z" fill="#000" stroke="#000" stroke-width="1.035" />
<path d="M-4.5,-9 L2.5,-10 L5.5,-7.5" fill="none" stroke="#000" stroke-width="2.1849999999999996" />
<ellipse cx="1.5" cy="-1.5" rx="1.6" ry="1.9" fill="#000" stroke="#000" stroke-width="0.9199999999999999"/>
<line x1="1.50" y1="-1.00" x2="1.50" y2="3.20" stroke="#000" stroke-width="1.38"/>
<path d="M-2.5,-3 C-1.5,-6 3,-6.5 5.5,-3.5" fill="none" stroke="#000" stroke-width="1.265" />
</g>
<g transform="translate(902.5,224) scale(1,1)">
<path d="M-3,-6.5 C-1.5,-8.5 2,-9 4,-7 C7,-4 7,1.5 5,5 C3,8.5 -1.5,9 -4,6 C-6.5,3 -6.5,-2 -4.5,-5.5" fill="none" stroke="#000" stroke-width="2.3" />
<path d="M0.8,-5.8 C2.4,-3 2.6,0 1.4,1.2 C0,2.6 -2.2,1.4 -3,-0.8" fill="none" stroke="#000" stroke-width="1.9549999999999998" />
</g>
<g transform="translate(1179.5,228.5) scale(-1,1)">
<path d="M-3,-6.5 C-1.5,-8.5 2,-9 4,-7 C7,-4 7,1.5 5,5 C3,8.5 -1.5,9 -4,6 C-6.5,3 -6.5,-2 -4.5,-5.5" fill="none" stroke="#000" stroke-width="2.3" />
<path d="M0.8,-5.8 C2.4,-3 2.6,0 1.4,1.2 C0,2.6 -2.2,1.4 -3,-0.8" fill="none" stroke="#000" stroke-width="1.9549999999999998" />
</g>
<g transform="translate(1204.5,230) scale(-1,1)">
<path d="M-4.5,-9 L2.5,-10 L8,-5 L9,3.5 L3,10 L-4.5,8.5 L-9,2.5 L-8.5,-4 Z" fill="#fff" stroke="#000" stroke-width="1.035" stroke-dasharray="3 2"/>
<path d="M-4.5,-9 L-8.5,-4 L-9,2.5 L-4.5,8.5 L3,10 L1.5,7.8 L-3.5,5.5 L-6.3,1.5 L-6,-4 L-2.5,-8.4 Z" fill="#000" stroke="#000" stroke-width="1.035" />
<path d="M-4.5,-9 L2.5,-10 L5.5,-7.5" fill="none" stroke="#000" stroke-width="2.1849999999999996" />
<ellipse cx="1.5" cy="-1.5" rx="1.6" ry="1.9" fill="#000" stroke="#000" stroke-width="0.9199999999999999"/>
<line x1="1.50" y1="-1.00" x2="1.50" y2="3.20" stroke="#000" stroke-width="1.38"/>
<path d="M-2.5,-3 C-1.5,-6 3,-6.5 5.5,-3.5" fill="none" stroke="#000" stroke-width="1.265" />
</g>
<g transform="translate(874.6,427.2)">
<path d="M-4,-9.8 L3,-10.4 L8,-6 L8.6,3 L3.5,10 L-4,9.2 L-8.3,3.5 L-8.3,-4.5 Z" fill="#fff" stroke="#000" stroke-width="2.3" />
<path d="M-4,-9.8 L-4.6,9" fill="none" stroke="#000" stroke-width="1.4949999999999999" />
<ellipse cx="1.6" cy="-0.2" rx="5.0" ry="7.6" fill="#fff" stroke="#000" stroke-width="1.6099999999999999"/>
<ellipse cx="1.2" cy="-1.0" rx="2.0" ry="2.5" fill="#fff" stroke="#000" stroke-width="1.4949999999999999"/>
<line x1="3.50" y1="2.00" x2="3.80" y2="4.50" stroke="#777" stroke-width="0.9199999999999999"/>
</g>
<g transform="translate(897.4,428.4)">
<path d="M-6.3,-2.5 C-6,-7 -2,-9.6 1.5,-9.2 C5.5,-8.6 7.4,-3.5 7,1 C6.6,6 3,9.6 -0.5,9.2 C-4,8.8 -6.4,6 -6.8,3" fill="none" stroke="#000" stroke-width="2.6449999999999996" />
<path d="M-6.3,-1.2 L-1,-2.3 C1.5,-2.3 2.6,-0.4 2.4,1.4 C2,3.6 -0.5,4.2 -2.5,3.6 L-6.5,2.6" fill="none" stroke="#000" stroke-width="2.07" />
</g>
<g transform="translate(1177.2,434.8)">
<path d="M-6.5,-6 C-5,-9.5 0,-11 3.5,-9 C7.5,-6.5 8.6,-1 8,3.5 C7.2,8.5 2.5,11 -2,10 C-5.5,9 -7.6,6 -7.8,3" fill="none" stroke="#000" stroke-width="2.6449999999999996" />
<path d="M-6.4,-4 C-3,-6 1.5,-5 2.2,-1.5 C2.8,2 0.5,5 -2.5,5 C-5,4.6 -6.6,3 -7.6,1.5" fill="none" stroke="#000" stroke-width="2.1849999999999996" />
</g>
<g transform="translate(1202.6,436)">
<path d="M-3,-9.6 L3.5,-9.6 L8,-5 L8.6,2.5 L5,8.5 L-0.5,10 L-6,7.5 L-8.6,1.5 L-7.5,-5.5 Z" fill="#fff" stroke="#000" stroke-width="2.415" />
<line x1="1.50" y1="-2.60" x2="5.50" y2="-2.60" stroke="#000" stroke-width="1.7249999999999999"/>
<line x1="1.50" y1="2.20" x2="4.80" y2="2.20" stroke="#000" stroke-width="1.6099999999999999"/>
<line x1="-4.4" y1="-5.5" x2="-4.4" y2="6" stroke="#000" stroke-width="1.5" stroke-dasharray="2.2 1.6"/>
<path d="M-0.5,-6.5 L-0.8,6.8" fill="none" stroke="#000" stroke-width="1.15" />
</g>
<line x1="853.00" y1="426.60" x2="866.00" y2="426.60" stroke="#000" stroke-width="2.53"/>
<path d="M851.8,426.6 L857.8,423.2 L857.8,430 Z" fill="#000" stroke="#000" stroke-width="0.9199999999999999" />
<line x1="1221.20" y1="424.50" x2="1210.80" y2="432.10" stroke="#000" stroke-width="2.53"/>
<path d="M1213,430.6 L1214.6,424.6 L1219.4,430.6 Z" fill="#000" stroke="#000" stroke-width="0.9199999999999999" />
<g transform="translate(0.00,17.90) scale(1.0,0.92)">
<path d="M922,220.2 L931,219.8 L931,226.6 L922,226.4 C920.2,225 920.2,221.8 922,220.2 Z" fill="#000" stroke="#000" stroke-width="1.9549999999999998" />
<path d="M931,218.4 C933,217 936,216.6 939,216.6 L1014,218.9 L1020.5,222.5 L1020.5,228 L1014,231 L936,229.2 C933.5,228.9 932,228.2 931,227.4 Z" fill="#fff" stroke="#000" stroke-width="1.9549999999999998" />
<path d="M931.5,221.8 L1013.5,224.3 L1014,230.8 L936,229 C933.5,228.7 932,228 931.5,227.2 Z" fill="#000" stroke="#000" stroke-width="1.15" />
<path d="M1014,219 C1012,222.5 1012,227.5 1014,231" fill="none" stroke="#000" stroke-width="1.265" />
<path d="M1020.5,223 L1027.5,224.2 L1025,226 L1028,227.6 L1020.5,228 Z" fill="#000" stroke="#000" stroke-width="1.4949999999999999" />
</g>
<g transform="translate(-38.69,250.76) scale(1.035,0.8)">
<path d="M922,220.2 L931,219.8 L931,226.6 L922,226.4 C920.2,225 920.2,221.8 922,220.2 Z" fill="#fff" stroke="#000" stroke-width="1.9549999999999998" />
<path d="M931,218.4 C933,217 936,216.6 939,216.6 L1014,218.9 L1020.5,222.5 L1020.5,228 L1014,231 L936,229.2 C933.5,228.9 932,228.2 931,227.4 Z" fill="#fff" stroke="#000" stroke-width="1.9549999999999998" />
<path d="M931.5,224.2 L1013.5,226.7 L1014,230.8 L936,229 C933.5,228.7 932,228 931.5,227.2 Z" fill="#000" stroke="#000" stroke-width="1.15" />
<path d="M1014,219 C1012,222.5 1012,227.5 1014,231" fill="none" stroke="#000" stroke-width="1.265" />
<path d="M1020.5,223 L1027.5,224.2 L1025,226 L1028,227.6 L1020.5,228 Z" fill="#000" stroke="#000" stroke-width="1.4949999999999999" />
</g>
<g transform="translate(0,0)">
<path d="M1060,203.5 L1151,208 L1157,231 L1152.5,238 L1146,252.5 L1054,248.5 L1048,222.5 Z" fill="#000" stroke="#000" stroke-width="2.07" />
<line x1="1061.50" y1="206.40" x2="1086.00" y2="207.50" stroke="#fff" stroke-width="1.4949999999999999"/>
<line x1="1059.50" y1="209.60" x2="1096.00" y2="211.24" stroke="#fff" stroke-width="1.4949999999999999"/>
<line x1="1100.00" y1="211.60" x2="1128.00" y2="212.86" stroke="#bbb" stroke-width="0.8049999999999999"/>
<line x1="1057.00" y1="213.00" x2="1081.00" y2="214.08" stroke="#fff" stroke-width="1.6099999999999999"/>
<line x1="1086.00" y1="214.40" x2="1120.00" y2="215.93" stroke="#ccc" stroke-width="0.8049999999999999"/>
<line x1="1054.50" y1="216.60" x2="1106.00" y2="218.92" stroke="#fff" stroke-width="1.6099999999999999"/>
<line x1="1112.00" y1="219.40" x2="1136.00" y2="220.48" stroke="#bbb" stroke-width="0.8049999999999999"/>
<line x1="1052.00" y1="220.60" x2="1140.00" y2="224.56" stroke="#fff" stroke-width="1.7249999999999999"/>
<line x1="1084.00" y1="229.40" x2="1113.00" y2="230.71" stroke="#fff" stroke-width="1.265"/>
<line x1="1056.00" y1="232.00" x2="1070.00" y2="232.63" stroke="#999" stroke-width="0.69"/>
<line x1="1052.00" y1="237.20" x2="1141.00" y2="241.20" stroke="#fff" stroke-width="1.7249999999999999"/>
<line x1="1052.50" y1="241.00" x2="1142.00" y2="245.03" stroke="#fff" stroke-width="1.7249999999999999"/>
<line x1="1053.50" y1="244.60" x2="1143.00" y2="248.63" stroke="#fff" stroke-width="1.7249999999999999"/>
<line x1="1055.00" y1="247.60" x2="1130.00" y2="250.97" stroke="#ddd" stroke-width="1.15"/>
<path d="M1150.5,208.5 L1140.3,222 L1145.5,251.5" fill="none" stroke="#fff" stroke-width="1.38" />
<ellipse cx="1152" cy="231" rx="2.4" ry="4.6" fill="#fff" stroke="none" stroke-width="0.0"/>
</g>
<path d="M1055.8,402.4 L1145.7,406.9 L1153,432.7 L1141,451.8 L1048,449.5 L1043.5,423.7 Z" fill="#000" stroke="#000" stroke-width="2.07" />
<line x1="1056.50" y1="406.00" x2="1142.00" y2="410.27" stroke="#fff" stroke-width="2.0"/>
<line x1="1054.00" y1="411.10" x2="1139.00" y2="415.18" stroke="#fff" stroke-width="2.1"/>
<line x1="1051.50" y1="416.20" x2="1137.00" y2="420.13" stroke="#fff" stroke-width="2.1"/>
<line x1="1049.50" y1="421.00" x2="1135.00" y2="424.76" stroke="#fff" stroke-width="1.9"/>
<line x1="1062.00" y1="429.00" x2="1100.00" y2="430.52" stroke="#888" stroke-width="0.6"/>
<line x1="1046.00" y1="435.60" x2="1092.00" y2="437.21" stroke="#fff" stroke-width="1.2"/>
<line x1="1100.00" y1="437.80" x2="1134.00" y2="438.99" stroke="#bbb" stroke-width="0.7"/>
<line x1="1046.50" y1="439.90" x2="1136.00" y2="442.76" stroke="#fff" stroke-width="2.0"/>
<line x1="1047.00" y1="444.00" x2="1137.50" y2="446.71" stroke="#fff" stroke-width="2.0"/>
<line x1="1048.00" y1="447.60" x2="1138.00" y2="450.12" stroke="#fff" stroke-width="1.3"/>
<path d="M1145.2,407.5 L1135.6,423.7 L1140.5,450.8" fill="none" stroke="#fff" stroke-width="1.38" />
<ellipse cx="1148" cy="431.6" rx="2.4" ry="4.8" fill="#fff" stroke="none" stroke-width="0.0"/>
<g transform="translate(877,0)">
<path d="M0,287.3 C5,287.3 9,289 9.2,295 L9.2,300 C10,307 15,311.5 17.5,315.5 C19.5,319 20.6,322 20,324.5 C19.5,328 17,331 15.5,334 C13,338 11.5,340 11,343 C10,348 10.3,353 10,358 C9.6,364 5,367.8 0,367.8 C-5,367.8 -8.6,364 -8.6,358 C-8.6,353 -8.6,348 -9.5,343 C-10.5,339 -14,334 -17,330 C-19,327 -20.4,325 -20,322.5 C-19.5,319 -18,316.5 -16,314 C-13,310 -10,306 -9.4,300 L-9.4,295 C-9.2,289 -5,287.3 0,287.3 Z" fill="#fff" stroke="#000" stroke-width="1.8399999999999999" />
<ellipse cx="0" cy="297" rx="2.2" ry="2.8" fill="none" stroke="#000" stroke-width="1.4949999999999999"/>
<ellipse cx="0.5" cy="358" rx="2.2" ry="2.8" fill="none" stroke="#000" stroke-width="1.4949999999999999"/>
<ellipse cx="2.5" cy="326" rx="9.5" ry="11.5" fill="#fff" stroke="#000" stroke-width="1.9549999999999998"/>
<ellipse cx="4" cy="326" rx="6.0" ry="8.8" fill="#fff" stroke="#000" stroke-width="1.8399999999999999"/>
<path d="M-5.5,320 C-8,325 -7,333 -2,336.5" fill="none" stroke="#000" stroke-width="2.53" />
</g>
<g transform="translate(1070,0)">
<path d="M0,287.3 C5,287.3 9,289 9.2,295 L9.2,300 C10,307 15,311.5 17.5,315.5 C19.5,319 20.6,322 20,324.5 C19.5,328 17,331 15.5,334 C13,338 11.5,340 11,343 C10,348 10.3,353 10,358 C9.6,364 5,367.8 0,367.8 C-5,367.8 -8.6,364 -8.6,358 C-8.6,353 -8.6,348 -9.5,343 C-10.5,339 -14,334 -17,330 C-19,327 -20.4,325 -20,322.5 C-19.5,319 -18,316.5 -16,314 C-13,310 -10,306 -9.4,300 L-9.4,295 C-9.2,289 -5,287.3 0,287.3 Z" fill="#fff" stroke="#000" stroke-width="1.8399999999999999" />
<ellipse cx="0" cy="297" rx="2.2" ry="2.8" fill="none" stroke="#000" stroke-width="1.4949999999999999"/>
<ellipse cx="0.5" cy="358" rx="2.2" ry="2.8" fill="none" stroke="#000" stroke-width="1.4949999999999999"/>
<ellipse cx="1.5" cy="327.5" rx="8.2" ry="12.2" fill="#fff" stroke="#000" stroke-width="1.9549999999999998"/>
<path d="M3,316.5 C8,319 9.5,333 4.5,339" fill="none" stroke="#000" stroke-width="2.76" />
<path d="M-17,333 C-14,340 -11,347 -9.5,355" fill="none" stroke="#000" stroke-width="0.9199999999999999" />
</g>
<path d="M929,314.5 L1015,316.5 C1021,318 1023,323 1022.5,328 C1022,334 1019,338.5 1013,339 L929,337 C924,335 922.5,330 923,325 C923.5,320 925,316 929,314.5 Z" fill="#fff" stroke="#000" stroke-width="1.9549999999999998" />
<path d="M923.2,326.5 L1012,329 L1013,339 L929,337 C925,335.5 923,331 923.2,326.5 Z" fill="#000" stroke="#000" stroke-width="1.38" />
<ellipse cx="1016.5" cy="327.8" rx="5.6" ry="11" fill="#fff" stroke="#000" stroke-width="1.7249999999999999"/>
<ellipse cx="1017.5" cy="328.5" rx="2.2" ry="4.5" fill="#000" stroke="#000" stroke-width="1.15"/>
<path d="M1011.5,318 C1008.5,323 1009,334 1012.5,338.5" fill="none" stroke="#000" stroke-width="1.38" />
<line x1="935.00" y1="321.00" x2="975.00" y2="322.00" stroke="#000" stroke-width="0.9199999999999999"/>
<ellipse cx="1105.8" cy="327.5" rx="8.2" ry="12.2" fill="#fff" stroke="#000" stroke-width="1.8399999999999999"/>
<ellipse cx="1106.3" cy="327.8" rx="3.3" ry="6.2" fill="#fff" stroke="#000" stroke-width="1.8399999999999999"/>
<ellipse cx="1131" cy="329" rx="7.4" ry="11" fill="#fff" stroke="#000" stroke-width="1.9549999999999998"/>
<ellipse cx="1131.5" cy="329.5" rx="3.8" ry="6.5" fill="#fff" stroke="#000" stroke-width="1.7249999999999999"/>
<path d="M1124,326 L1128,327.5" fill="none" stroke="#000" stroke-width="1.6099999999999999" />
<path d="M1124.5,331 L1128,330" fill="none" stroke="#000" stroke-width="1.6099999999999999" />
<path d="M1156,320 L1163,317.5 L1169.5,322 L1170,335 L1163.5,341 L1156.5,338.5 L1152,333 L1152,325 Z" fill="#fff" stroke="#000" stroke-width="1.9549999999999998" />
<path d="M1156,320 L1157.5,331 L1156.5,338.5" fill="none" stroke="#000" stroke-width="1.38" />
<path d="M1152,325 L1157,326" fill="none" stroke="#000" stroke-width="1.15" />
<path d="M1152,333 L1157.5,331" fill="none" stroke="#000" stroke-width="1.15" />
<ellipse cx="1163.5" cy="329.5" rx="4.6" ry="7.2" fill="#fff" stroke="#000" stroke-width="1.7249999999999999"/>
<path d="M1162,326 C1160.5,329 1161.5,333 1164,334.5" fill="none" stroke="#000" stroke-width="1.8399999999999999" />
<path d="M1197,306 C1196,297 1200,291 1205,291 C1210,291 1214,296 1213.5,304 Z" fill="#fff" stroke="#000" stroke-width="1.8399999999999999" />
<ellipse cx="1206" cy="299" rx="1.4" ry="2.0" fill="#000" stroke="#000" stroke-width="0.9199999999999999"/>
<path d="M1197.5,345 C1197,352 1198,362 1200,367 C1202,371.5 1210,372 1213,368 C1215.5,363 1216,355 1216,349 Z" fill="#fff" stroke="#000" stroke-width="1.8399999999999999" />
<ellipse cx="1206" cy="361.5" rx="1.4" ry="2.4" fill="#000" stroke="#000" stroke-width="0.9199999999999999"/>
<path d="M1219,304 C1210,303 1198,305 1192,312 C1187,318 1187,330 1190,338 C1193,346 1202,351 1212,351 L1222,349 Z" fill="#fff" stroke="#000" stroke-width="1.9549999999999998" />
<ellipse cx="1219.5" cy="326.5" rx="10.5" ry="22.5" fill="#fff" stroke="#000" stroke-width="2.07"/>
<ellipse cx="1221" cy="326.5" rx="8.0" ry="19.5" fill="#fff" stroke="#000" stroke-width="1.4949999999999999"/>
<path d="M1216,312 L1223,313.5 L1224.5,338 L1217,340 Z" fill="#000" stroke="#000" stroke-width="1.38" />
<line x1="1220.00" y1="314.00" x2="1221.00" y2="338.00" stroke="#fff" stroke-width="0.8049999999999999"/>
<path d="M1199,344 C1205,346 1212,345.5 1216,343" fill="none" stroke="#000" stroke-width="1.38" />
<path d="M1203,349.5 C1208,349 1215,347.5 1219,349" fill="none" stroke="#000" stroke-width="2.76" />
<path d="M1206,302 L1214,304" fill="none" stroke="#000" stroke-width="1.38" />
<text x="652.6" y="53.0" textLength="13.5" lengthAdjust="spacingAndGlyphs">1</text>
<text x="659.5" y="96.0" textLength="16.2" lengthAdjust="spacingAndGlyphs">5</text>
<text x="230.0" y="211.0" textLength="18.2" lengthAdjust="spacingAndGlyphs">9</text>
<text x="209.8" y="241.5" textLength="17.7" lengthAdjust="spacingAndGlyphs">8</text>
<text x="178.2" y="272.5" textLength="15.7" lengthAdjust="spacingAndGlyphs">5</text>
<text x="124.2" y="306.0" textLength="16.7" lengthAdjust="spacingAndGlyphs">2</text>
<text x="68.5" y="415.0" textLength="34.2" lengthAdjust="spacingAndGlyphs">12</text>
<text x="157.5" y="451.0" textLength="32.2" lengthAdjust="spacingAndGlyphs">11</text>
<text x="375.5" y="357.5" textLength="32.2" lengthAdjust="spacingAndGlyphs">13</text>
<text x="542.0" y="444.5" textLength="34.2" lengthAdjust="spacingAndGlyphs">10</text>
<text x="765.5" y="184.0" textLength="32.2" lengthAdjust="spacingAndGlyphs">18</text>
<text x="846.5" y="125.0" textLength="32.2" lengthAdjust="spacingAndGlyphs">19</text>
<text x="886.5" y="190.0" textLength="32.2" lengthAdjust="spacingAndGlyphs">20</text>
<text x="937.5" y="197.0" textLength="33.2" lengthAdjust="spacingAndGlyphs">24</text>
<text x="1018.2" y="201.0" textLength="31.7" lengthAdjust="spacingAndGlyphs">15</text>
<text x="1096.8" y="97.5" textLength="34.7" lengthAdjust="spacingAndGlyphs">25</text>
<text x="1191.0" y="195.0" textLength="33.2" lengthAdjust="spacingAndGlyphs">27</text>
<text x="1241.8" y="191.0" textLength="31.7" lengthAdjust="spacingAndGlyphs">30</text>
<text x="732.5" y="250.0" textLength="36.2" lengthAdjust="spacingAndGlyphs">28</text>
<text x="731.8" y="284.0" textLength="34.7" lengthAdjust="spacingAndGlyphs">29</text>
<text x="874.0" y="260.0" textLength="17.2" lengthAdjust="spacingAndGlyphs">6</text>
<text x="902.8" y="260.0" textLength="18.7" lengthAdjust="spacingAndGlyphs">4</text>
<text x="977.5" y="257.5" textLength="33.2" lengthAdjust="spacingAndGlyphs">16</text>
<text x="1102.5" y="277.5" textLength="33.2" lengthAdjust="spacingAndGlyphs">14</text>
<text x="1179.8" y="262.5" textLength="18.7" lengthAdjust="spacingAndGlyphs">4</text>
<text x="1221.0" y="260.0" textLength="17.2" lengthAdjust="spacingAndGlyphs">6</text>
<text x="756.8" y="359.0" textLength="31.7" lengthAdjust="spacingAndGlyphs">17</text>
<text x="849.0" y="379.0" textLength="33.2" lengthAdjust="spacingAndGlyphs">23</text>
<text x="973.0" y="364.0" textLength="33.2" lengthAdjust="spacingAndGlyphs">22</text>
<text x="1043.5" y="382.5" textLength="34.2" lengthAdjust="spacingAndGlyphs">23</text>
<text x="1103.0" y="365.0" textLength="17.2" lengthAdjust="spacingAndGlyphs">3</text>
<text x="1132.0" y="367.0" textLength="17.2" lengthAdjust="spacingAndGlyphs">5</text>
<text x="1158.0" y="369.0" textLength="17.2" lengthAdjust="spacingAndGlyphs">7</text>
<text x="1206.2" y="399.5" textLength="34.7" lengthAdjust="spacingAndGlyphs">26</text>
<text x="840.5" y="436.0" textLength="16.2" lengthAdjust="spacingAndGlyphs">6</text>
<text x="895.0" y="466.0" textLength="18.2" lengthAdjust="spacingAndGlyphs">4</text>
<text x="977.8" y="463.0" textLength="32.7" lengthAdjust="spacingAndGlyphs">16</text>
<text x="1096.0" y="481.0" textLength="33.2" lengthAdjust="spacingAndGlyphs">14</text>
<text x="1174.8" y="471.0" textLength="17.7" lengthAdjust="spacingAndGlyphs">4</text>
<text x="1231.2" y="443.0" textLength="16.7" lengthAdjust="spacingAndGlyphs">6</text>
</svg>
</body></html>
